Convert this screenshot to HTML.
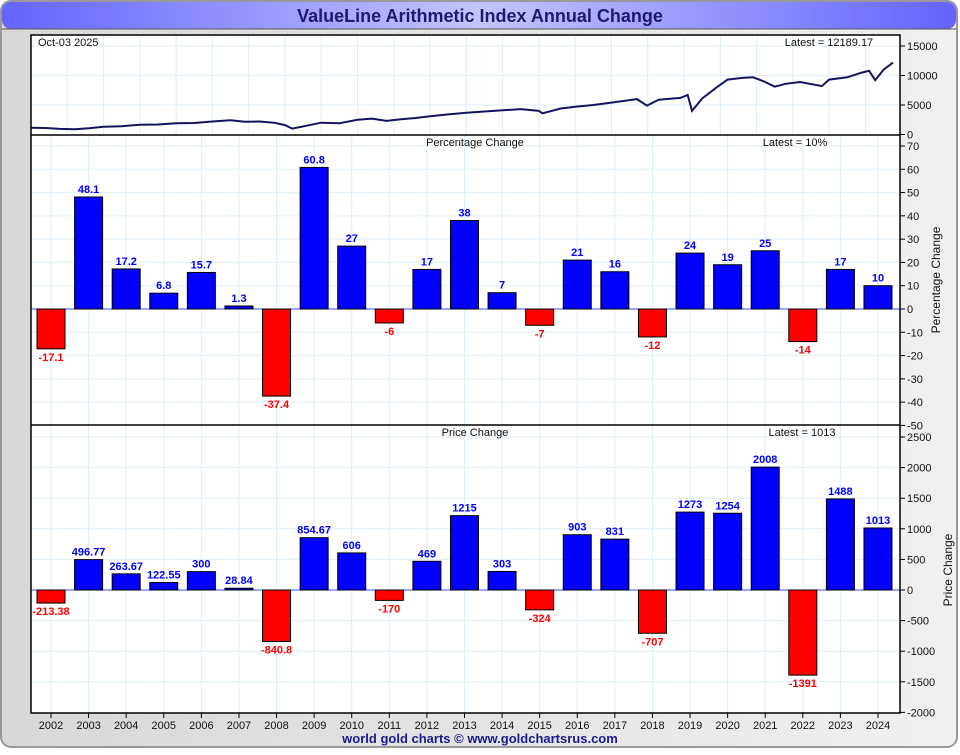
<!DOCTYPE html>
<html><head><meta charset="utf-8">
<style>
html,body{margin:0;padding:0;background:#fff;}
body{width:960px;height:750px;overflow:hidden;font-family:"Liberation Sans",sans-serif;}
svg text{font-family:"Liberation Sans",sans-serif;}
</style></head>
<body>
<svg id="chart" width="960" height="750" xmlns="http://www.w3.org/2000/svg">
<defs>
<linearGradient id="tg" x1="0" x2="1" y1="0" y2="0">
<stop offset="0" stop-color="#6464ff"/><stop offset="0.5" stop-color="#c4c4ff"/><stop offset="1" stop-color="#6464ff"/>
</linearGradient>
<linearGradient id="bg" x1="0" x2="1" y1="0" y2="0">
<stop offset="0" stop-color="#d8d8d8"/><stop offset="1" stop-color="#f0f0f0"/>
</linearGradient>
</defs>
<rect x="1" y="1" width="956" height="746" rx="10" fill="url(#bg)" stroke="#999" stroke-width="2"/>
<rect x="2" y="2" width="954" height="27" rx="9" fill="url(#tg)"/>
<line x1="2" y1="29" x2="956" y2="29" stroke="#555" stroke-width="1"/>
<text x="480" y="22" text-anchor="middle" font-size="18" font-weight="bold" fill="#1a1a6e">ValueLine Arithmetic Index Annual Change</text>
<rect x="31" y="35" width="869" height="678" fill="#fff"/>
<g id="grid"></g>
<g id="marks"></g>
<g id="axes"></g>
<text x="480" y="743" text-anchor="middle" font-size="13" font-weight="bold" fill="#1a1a8e">world gold charts © www.goldchartsrus.com</text>
</svg>
<script>
const years=[2002,2003,2004,2005,2006,2007,2008,2009,2010,2011,2012,2013,2014,2015,2016,2017,2018,2019,2020,2021,2022,2023,2024];
const pctValues=[-17.1,48.1,17.2,6.8,15.7,1.3,-37.4,60.8,27,-6,17,38,7,-7,21,16,-12,24,19,25,-14,17,10];
const pctLabels=["-17.1","48.1","17.2","6.8","15.7","1.3","-37.4","60.8","27","-6","17","38","7","-7","21","16","-12","24","19","25","-14","17","10"];
const priceValues=[-213.38,496.77,263.67,122.55,300,28.84,-840.8,854.67,606,-170,469,1215,303,-324,903,831,-707,1273,1254,2008,-1391,1488,1013];
const priceLabels=["-213.38","496.77","263.67","122.55","300","28.84","-840.8","854.67","606","-170","469","1215","303","-324","903","831","-707","1273","1254","2008","-1391","1488","1013"];
const topTicks=[0,5000,10000,15000];
const pctTicks=[70,60,50,40,30,20,10,0,-10,-20,-30,-40,-50];
const priceTicks=[2500,2000,1500,1000,500,0,-500,-1000,-1500,-2000];
const idxDates=[2002.0,2002.4,2002.8,2003.2,2003.6,2004.0,2004.5,2005.0,2005.5,2006.0,2006.5,2007.0,2007.5,2007.9,2008.3,2008.7,2009.0,2009.2,2009.6,2010.0,2010.5,2011.0,2011.4,2011.8,2012.2,2012.6,2013.0,2013.5,2014.0,2014.5,2015.0,2015.5,2016.0,2016.1,2016.6,2017.0,2017.5,2018.0,2018.7,2018.98,2019.3,2019.9,2020.1,2020.22,2020.5,2020.9,2021.2,2021.6,2021.9,2022.2,2022.5,2022.8,2023.2,2023.8,2024.0,2024.5,2024.9,2025.1,2025.27,2025.5,2025.76];
const idxValues=[1150,1100,950,900,1050,1300,1400,1650,1700,1900,1950,2200,2400,2150,2200,2000,1600,1000,1500,2000,1900,2500,2700,2300,2600,2800,3100,3400,3700,3900,4100,4300,4000,3600,4400,4700,5000,5400,6000,4900,5900,6200,6700,4000,6100,8000,9300,9600,9700,9000,8100,8600,8900,8200,9300,9700,10500,10800,9200,11000,12189];

const X0=31,X1=900;
const xs=i=>51+i*37.59;
const bw=28;
const yTop=v=>134.5-v*(88.5/15000);
const yPct=v=>309-v*(163/70);
const yPrice=v=>590-v*(153/2500);
const xDate=d=>X0+(d-2002)*((893-X0)/(2025.76-2002));
const NS="http://www.w3.org/2000/svg";
function mk(tag,attrs,parent,txt){const e=document.createElementNS(NS,tag);for(const k in attrs)e.setAttribute(k,attrs[k]);if(txt!==undefined)e.textContent=txt;parent.appendChild(e);return e;}
const grid=document.getElementById('grid'),marks=document.getElementById('marks'),axes=document.getElementById('axes');
const gc="#ddeef8";
// grids
for(let y=2002;y<=2025;y++){const x=xDate(y);if(x>X0&&x<X1)mk('line',{x1:x,y1:35,x2:x,y2:134,stroke:gc},grid);}
topTicks.forEach(t=>{const y=yTop(t);if(y>36&&y<134)mk('line',{x1:X0,y1:y,x2:X1,y2:y,stroke:gc},grid);});
years.forEach((yr,i)=>{const x=xs(i);mk('line',{x1:x,y1:135,x2:x,y2:713,stroke:gc},grid);});
pctTicks.forEach(t=>{const y=yPct(t);if(y>136&&y<424)mk('line',{x1:X0,y1:y,x2:X1,y2:y,stroke:gc},grid);});
priceTicks.forEach(t=>{const y=yPrice(t);if(y>426&&y<712)mk('line',{x1:X0,y1:y,x2:X1,y2:y,stroke:gc},grid);});
// top line
let d='';idxDates.forEach((t,i)=>{d+=(i?'L':'M')+xDate(t).toFixed(1)+','+yTop(idxValues[i]).toFixed(1);});
const ln=mk('path',{d:d,fill:'none',stroke:'#14145e','stroke-width':2},marks);


// zero lines
mk('line',{x1:X0,y1:yPct(0),x2:X1,y2:yPct(0),stroke:'#3050ff','stroke-width':1},marks);
mk('line',{x1:X0,y1:yPrice(0),x2:X1,y2:yPrice(0),stroke:'#3050ff','stroke-width':1},marks);
function bars(vals,labels,yf,prefix){
 vals.forEach((v,i)=>{
  const x=xs(i)-bw/2,y0=yf(0),y1=yf(v);
  const r=mk('rect',{x:x,y:Math.min(y0,y1),width:bw,height:Math.abs(y1-y0),fill:v>=0?'#0000ff':'#ff0000',stroke:'#000','stroke-width':1},marks);
  
  
  const ty=v>=0?y1-4:y1+12;
  const t=mk('text',{x:xs(i),y:ty,'text-anchor':'middle','font-size':11,'font-weight':'bold',fill:v>=0?'#0000ff':'#ff0000'},marks,labels[i]);
  
  
 });
}
bars(pctValues,pctLabels,yPct,'pct');
bars(priceValues,priceLabels,yPrice,'price');
// frames
mk('rect',{x:X0,y:35,width:X1-X0,height:678,fill:'none',stroke:'#000','stroke-width':1.5},axes);
mk('line',{x1:X0,y1:135,x2:X1,y2:135,stroke:'#000','stroke-width':1.5},axes);
mk('line',{x1:X0,y1:425,x2:X1,y2:425,stroke:'#000','stroke-width':1.5},axes);
function yaxis(ticks,yf,prefix){ticks.forEach(t=>{const y=yf(t);mk('line',{x1:X1,y1:y,x2:X1+5,y2:y,stroke:'#000'},axes);
 const tx=mk('text',{x:X1+7,y:y+4,'font-size':11,fill:'#111'},axes,String(t));
 
 });}
yaxis(topTicks,yTop,'top');yaxis(pctTicks,yPct,'pct');yaxis(priceTicks,yPrice,'price');
years.forEach((yr,i)=>{mk('line',{x1:xs(i),y1:713,x2:xs(i),y2:718,stroke:'#000'},axes);
 const t=mk('text',{x:xs(i),y:729,'text-anchor':'middle','font-size':11,fill:'#111'},axes,String(yr));
 
 });
function lab(x,y,s,attrs,name){const t=mk('text',Object.assign({x:x,y:y,'font-size':11,fill:'#111'},attrs||{}),axes,s);}
lab(38,46,'Oct-03  2025',{},'date-label');
lab(829,46,'Latest = 12189.17',{'text-anchor':'middle'},'top-latest-label');
lab(475,146,'Percentage Change',{'text-anchor':'middle'},'pct-panel-title');
lab(795,146,'Latest = 10%',{'text-anchor':'middle'},'pct-latest-label');
lab(475,436,'Price Change',{'text-anchor':'middle'},'price-panel-title');
lab(802,436,'Latest = 1013',{'text-anchor':'middle'},'price-latest-label');
lab(0,0,'Percentage Change',{transform:'translate(940,280) rotate(-90)','text-anchor':'middle','font-size':12},'pct-axis-title');
lab(0,0,'Price Change',{transform:'translate(952,570) rotate(-90)','text-anchor':'middle','font-size':12},'price-axis-title');
</script>
</body></html>
